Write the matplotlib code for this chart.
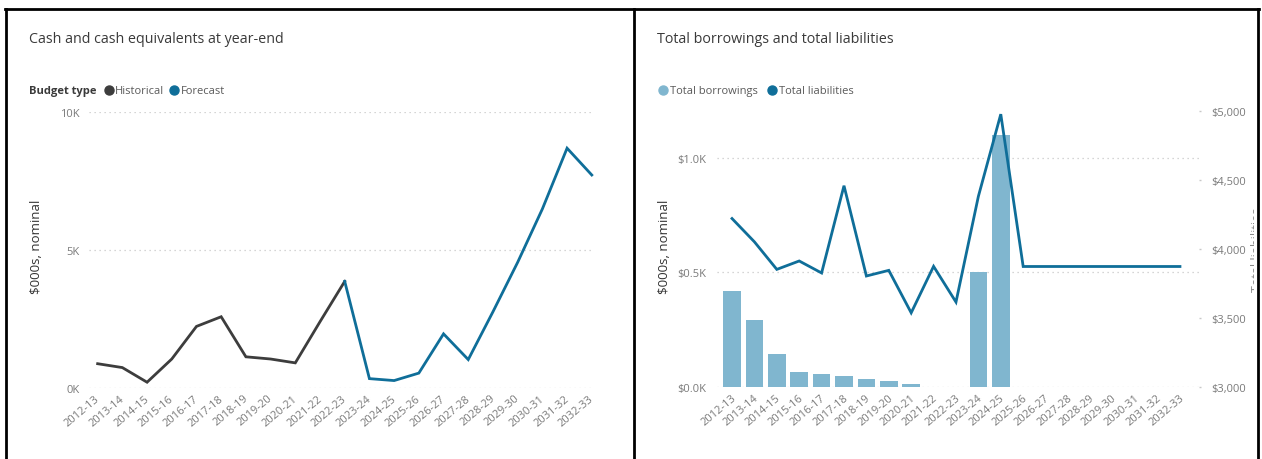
import matplotlib
matplotlib.use("Agg")
import matplotlib.pyplot as plt
from matplotlib.lines import Line2D
from matplotlib.transforms import Bbox, TransformedBbox, ScaledTranslation
import numpy as np

plt.rcParams['font.family'] = ['Open Sans', 'DejaVu Sans']

# ---- data -------------------------------------------------------------
years = ['2012-13', '2013-14', '2014-15', '2015-16', '2016-17', '2017-18',
         '2018-19', '2019-20', '2020-21', '2021-22', '2022-23', '2023-24',
         '2024-25', '2025-26', '2026-27', '2027-28', '2028-29', '2029-30',
         '2030-31', '2031-32', '2032-33']

nan = np.nan
# Cash and cash equivalents at year-end ($000s)
cash_historical = [890, 750, 220, 1060, 2240, 2590, 1140, 1060, 920, 2410, 3870,
                   nan, nan, nan, nan, nan, nan, nan, nan, nan, nan]
cash_forecast = [nan, nan, nan, nan, nan, nan, nan, nan, nan, nan, 3870,
                 350, 280, 550, 1970, 1040, 2770, 4560, 6490, 8690, 7720]

# Total borrowings (left axis) and total liabilities (right axis), $000s
total_borrowings = [420, 294, 145, 63, 54, 45, 34, 23, 12, 0, 0, 500, 1103,
                    nan, nan, nan, nan, nan, nan, nan, nan]
total_liabilities = [4220, 4051, 3851, 3912, 3825, 4458, 3803, 3844, 3536,
                     3873, 3614, 4381, 4977, 3872, 3872, 3872, 3872, 3872,
                     3872, 3872, 3872]

cash_ticks = [0, 5000, 10000]
cash_tick_labels = ['0K', '5K', '10K']
borrow_ticks = [0, 500, 1000]
borrow_tick_labels = ['$0.0K', '$0.5K', '$1.0K']
liab_ticks = [3000, 3500, 4000, 4500, 5000]
liab_tick_labels = ['$3,000', '$3,500', '$4,000', '$4,500', '$5,000']

# ---- styling ------------------------------------------------------------
W, H = 1262, 460
C_HIST = '#3d3d3d'
C_FORE = '#0f6e99'
C_BAR = '#80b6cf'
C_LIAB = '#0f6e99'
C_TITLE = '#3a3a3a'
C_TEXT = '#5a5a5a'
C_TICK = '#7a7a7a'
C_GRID = '#c8c8c8'

fig = plt.figure(figsize=(W / 100, H / 100), dpi=100)
fig.patch.set_facecolor('white')


def rect(left, right, top, bottom):
    return [left / W, 1 - bottom / H, (right - left) / W, (bottom - top) / H]


def fx(x):
    return x / W


def fy(y):
    return 1 - y / H


def style_axes(ax):
    for s in ax.spines.values():
        s.set_visible(False)
    ax.tick_params(axis='both', length=0, colors=C_TICK, labelsize=8)
    ax.grid(axis='y', color=C_GRID, linestyle=(0, (1, 3)), linewidth=0.9)
    ax.grid(axis='x', visible=False)
    ax.set_facecolor('none')


def rotate_labels(ax, dx_px=-3):
    shift = ScaledTranslation(dx_px / 100, 0, fig.dpi_scale_trans)
    for lab in ax.get_xticklabels():
        lab.set_rotation(40)
        lab.set_ha('right')
        lab.set_va('top')
        lab.set_rotation_mode('anchor')
        lab.set_transform(lab.get_transform() + shift)


def legend_item(x_dot, x_text, label, color):
    fig.add_artist(Line2D([fx(x_dot)], [fy(90.5)], marker='o', markersize=6.5,
                          color=color, transform=fig.transFigure))
    fig.text(fx(x_text), fy(94), label, fontsize=8, color=C_TEXT,
             ha='left', va='baseline')


x = np.arange(len(years))

# ---- left panel: cash ------------------------------------------------------
ax1 = fig.add_axes(rect(89, 594, 113, 389.3))
style_axes(ax1)
ax1.plot(x, cash_historical, color=C_HIST, lw=2.0, solid_joinstyle='miter',
         clip_on=False)
ax1.plot(x, cash_forecast, color=C_FORE, lw=2.0, solid_joinstyle='miter',
         clip_on=False)
ax1.set_xlim(-0.35, 20.09)
ax1.set_ylim(0, 10000)
ax1.set_yticks(cash_ticks)
ax1.set_yticklabels(cash_tick_labels)
ax1.tick_params(axis='y', pad=7)
ax1.set_xticks(x)
ax1.set_xticklabels(years)
ax1.tick_params(axis='x', pad=3)
rotate_labels(ax1)

fig.text(fx(29), fy(40), 'Cash and cash equivalents at year-end', fontsize=10.3,
         color=C_TITLE, ha='left', va='center')
fig.text(fx(29), fy(94), 'Budget type', fontsize=8, fontweight='bold',
         color=C_TITLE, ha='left', va='baseline')
legend_item(109, 115, 'Historical', C_HIST)
legend_item(174, 181, 'Forecast', C_FORE)
fig.text(fx(37), fy(247), '$000s, nominal', fontsize=9.5, color='#333333',
         rotation=90, ha='center', va='center')

# ---- right panel: borrowings and liabilities --------------------------------
ax2 = fig.add_axes(rect(717, 1199, 112, 387.7))
style_axes(ax2)
ax2.bar(x, total_borrowings, width=0.79, color=C_BAR, zorder=2)
ax2.set_xlim(-0.67, 20.85)
ax2.set_ylim(0, 1207)
ax2.set_yticks(borrow_ticks)
ax2.set_yticklabels(borrow_tick_labels)
ax2.tick_params(axis='y', pad=8)
ax2.set_xticks(x)
ax2.set_xticklabels(years)
ax2.tick_params(axis='x', pad=4)
rotate_labels(ax2, dx_px=-1)

ax3 = ax2.twinx()
for s in ax3.spines.values():
    s.set_visible(False)
ax3.plot(x, total_liabilities, color=C_LIAB, lw=2.0, solid_joinstyle='miter',
         zorder=3, clip_on=False)
ax3.set_ylim(3000, 5000)
ax3.set_yticks(liab_ticks)
ax3.set_yticklabels(liab_tick_labels)
ax3.tick_params(axis='y', length=1.5, width=1, color=C_GRID, labelcolor=C_TICK,
                labelsize=8, pad=7)

fig.text(fx(657), fy(40), 'Total borrowings and total liabilities', fontsize=10.3,
         color=C_TITLE, ha='left', va='center')
legend_item(663, 670, 'Total borrowings', C_BAR)
legend_item(772, 779, 'Total liabilities', C_LIAB)
fig.text(fx(665), fy(247), '$000s, nominal', fontsize=9.5, color='#333333',
         rotation=90, ha='center', va='center')

# secondary axis title, cut off by the panel edge
sec_title = fig.text(fx(1251), fy(250), 'Total liabilities', fontsize=9,
                     color='#8a8a8a', rotation=90, ha='left', va='center')
sec_title.set_clip_box(TransformedBbox(Bbox([[fx(1240), 0], [fx(1253.5), 1]]),
                                       fig.transFigure))
sec_title.set_clip_on(True)

# ---- panel borders --------------------------------------------------------
border_kw = dict(color='black', lw=2.0, transform=fig.transFigure,
                 solid_capstyle='projecting')
fig.add_artist(Line2D([fx(5), fx(1259)], [fy(10.3), fy(10.3)], **border_kw))
fig.add_artist(Line2D([fx(6), fx(6)], [fy(10.3), fy(462)], **border_kw))
fig.add_artist(Line2D([fx(634), fx(634)], [fy(10.3), fy(462)], **border_kw))
fig.add_artist(Line2D([fx(1258), fx(1258)], [fy(10.3), fy(462)], **border_kw))

fig.savefig('out.png', dpi=100, facecolor='white')
